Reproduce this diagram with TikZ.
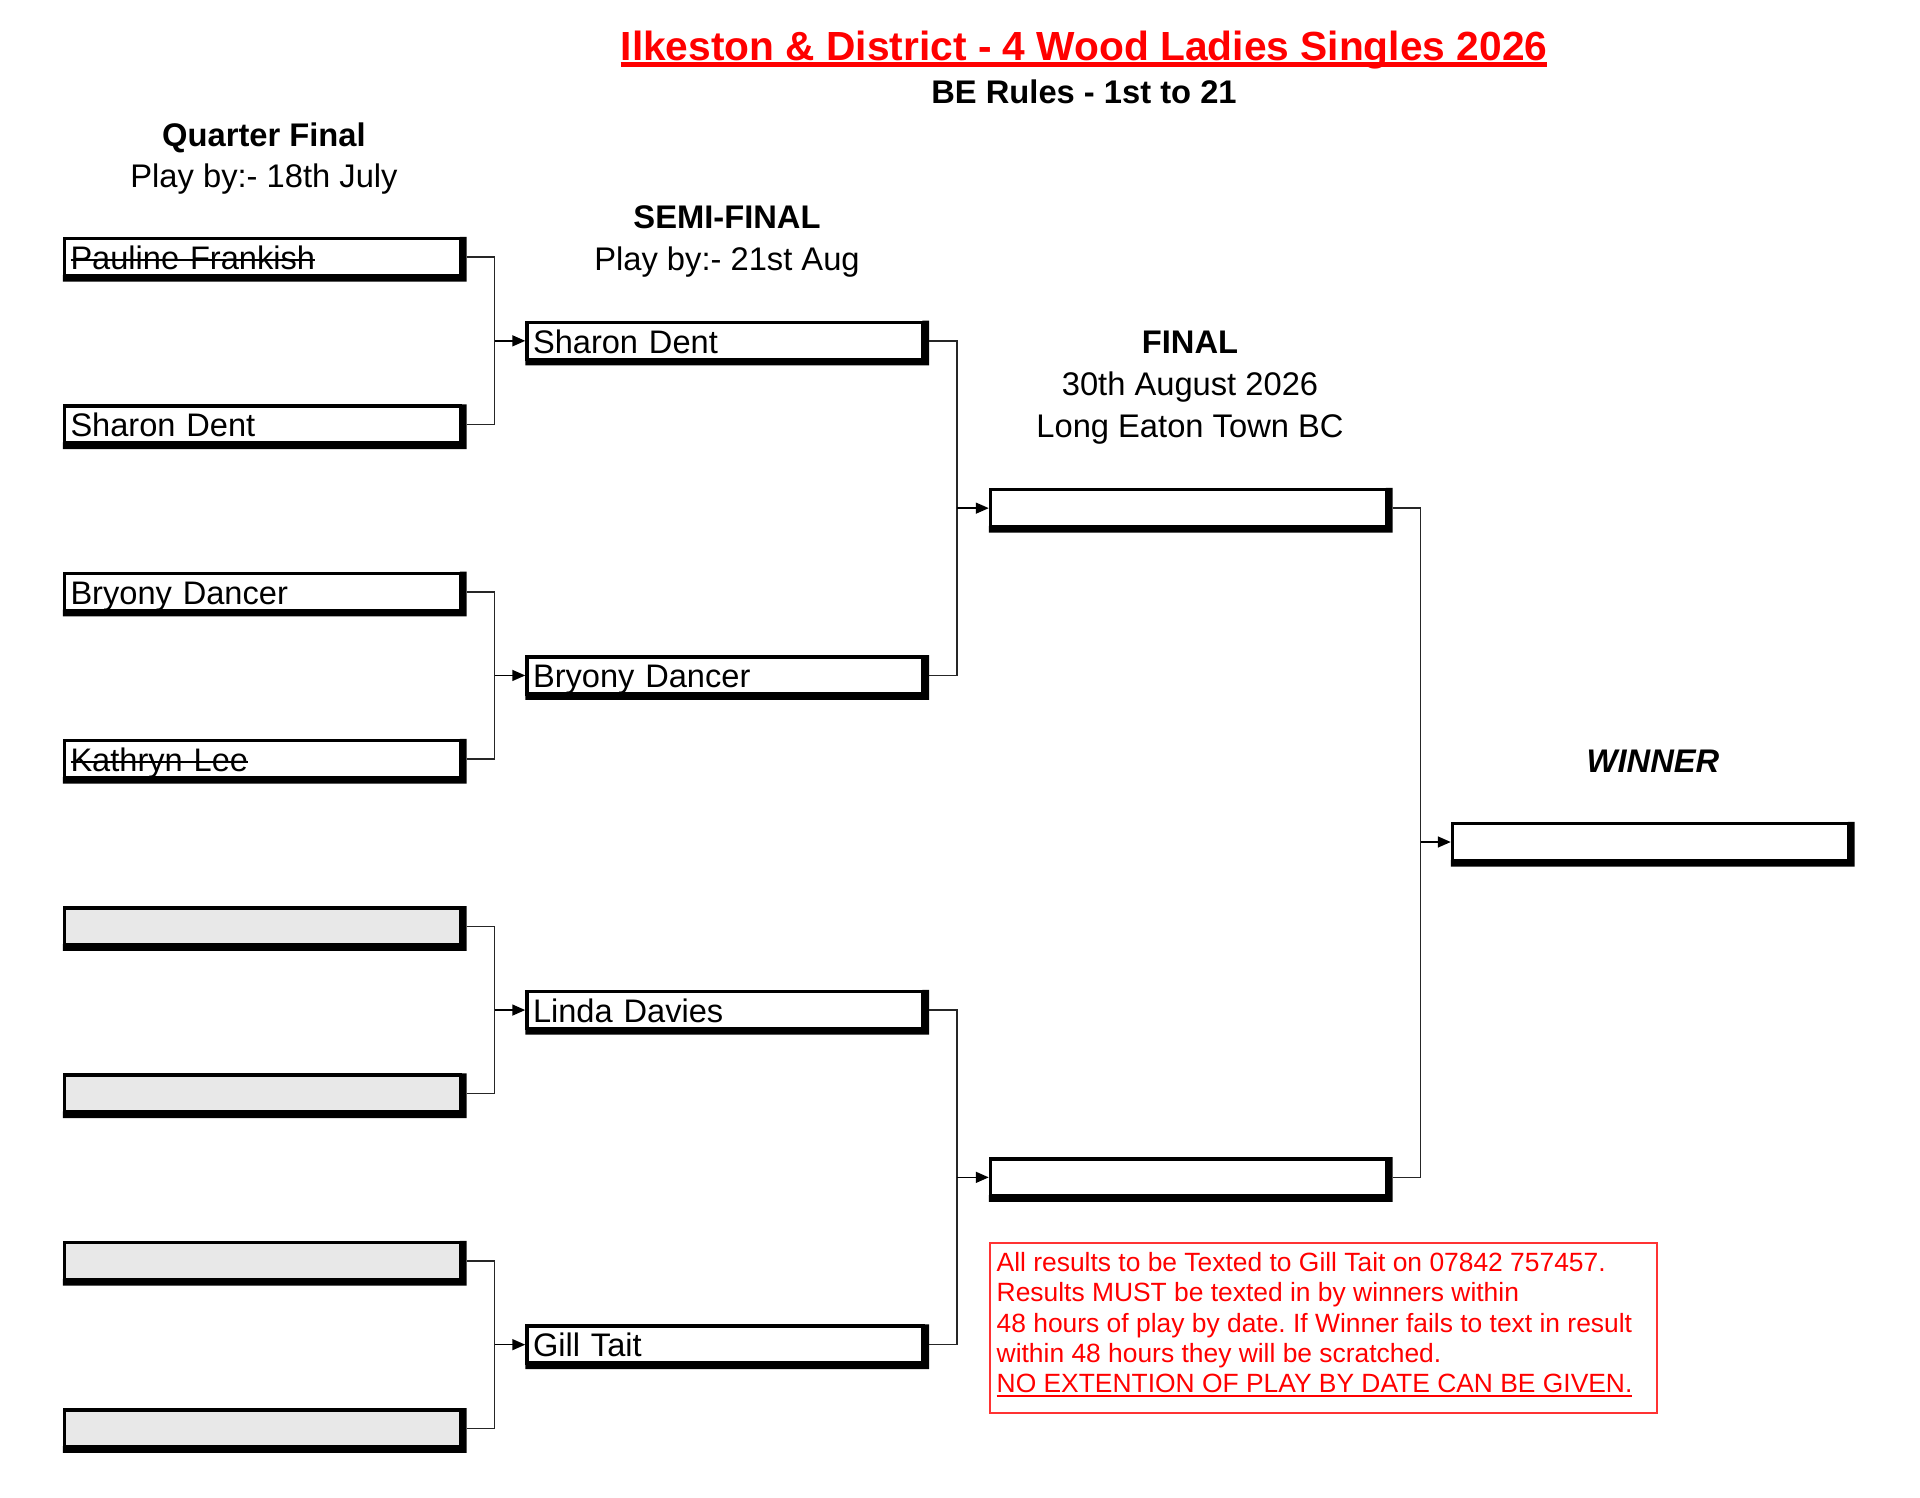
\documentclass[tikz,border=0pt]{standalone}
\usepackage{fontspec}
\setmainfont{Liberation Sans}
\frenchspacing
\usetikzlibrary{arrows.meta}
\tikzset{
 player/.style={draw=black, line width=3.5pt, fill=white, minimum width=396pt, minimum height=37pt,
   inner xsep=6pt, inner ysep=0pt, text width=384pt, align=left, text height=30.7pt, text depth=6.3pt,
   font=\fontsize{32.6}{38}\selectfont},
 empty/.style={player, fill=black!9},
 band/.style={fill=black},
 link/.style={draw=black!85, line width=1.4pt},
 adv/.style={draw=black, line width=1.6pt, -{Triangle[length=13pt,width=11pt]}},
 heading/.style={font=\fontsize{32.7}{38}\selectfont\bfseries, inner sep=0pt, anchor=base},
 sub/.style={font=\fontsize{32.7}{38}\selectfont, inner sep=0pt, anchor=base},
}
\newsavebox{\mybx}
\newcommand{\struck}[1]{\sbox{\mybx}{#1}\rlap{\rule[8.5pt]{\wd\mybx}{2pt}}\usebox{\mybx}}
\newcommand{\ulined}[1]{\sbox{\mybx}{#1}\rlap{\rule[-4.5pt]{\wd\mybx}{2pt}}\usebox{\mybx}}
\begin{document}
\begin{tikzpicture}[x=1pt,y=-1pt]
\useasboundingbox (0,0) rectangle (1920,1498);
% title
\node[font=\fontsize{40.7}{46}\selectfont\bfseries, text=red, inner sep=0pt, anchor=base] (title) at (1084,60.5) {Ilkeston \& District - 4 Wood Ladies Singles 2026};
\draw[red, line width=5pt] ([yshift=-4pt]title.base west) -- ([yshift=-4pt]title.base east);
\node[heading] (rules) at (1084,104) {BE Rules - 1st to 21};
% headings
\node[heading] (qfh) at (264,147) {Quarter Final};
\node[sub] (qfd) at (264,188) {Play by:- 18th July};
\node[heading] (sfh) at (727,229) {SEMI-FINAL};
\node[sub] (sfd) at (727,270) {Play by:- 21st Aug};
\node[heading] (fh) at (1190,353.5) {FINAL};
\node[sub] (fd) at (1190,395.5) {30th August 2026};
\node[sub] (fv) at (1190,437.5) {Long Eaton Town BC};
\node[heading, font=\fontsize{32.7}{38}\selectfont\bfseries\itshape] (wh) at (1653,772) {WINNER};
% quarter finals
\node[player] (q1) at (262.5,257.2) {\struck{Pauline Frankish}};
\node[player] (q2) at (262.5,424.5) {Sharon Dent};
\node[player] (q3) at (262.5,591.8) {Bryony Dancer};
\node[player] (q4) at (262.5,759.1) {\struck{Kathryn Lee}};
\node[empty] (q5) at (262.5,926.4) {};
\node[empty] (q6) at (262.5,1093.7) {};
\node[empty] (q7) at (262.5,1261.0) {};
\node[empty] (q8) at (262.5,1428.3) {};
% semi finals
\node[player] (s1) at (725,340.85) {Sharon Dent};
\node[player] (s2) at (725,675.45) {Bryony Dancer};
\node[player] (s3) at (725,1010.05) {Linda Davies};
\node[player] (s4) at (725,1344.65) {Gill Tait};
% finals
\node[player] (f1) at (1188.5,508.15) {};
\node[player] (f2) at (1188.5,1177.35) {};
% winner
\node[player] (w) at (1650.5,842) {};
% heavy right and bottom edges
\foreach \n in {q1,q2,q3,q4,q5,q6,q7,q8,s1,s2,s3,s4,f1,f2,w}{
  \fill[band] ([yshift=2.5pt]\n.south west) rectangle ([shift={(4.25pt,-4.25pt)}]\n.south east)
              ([xshift=-2.5pt]\n.north east) rectangle ([shift={(4.25pt,-4.25pt)}]\n.south east);
}
% connectors
\foreach \a/\b/\c in {q1/q2/s1, q3/q4/s2, q5/q6/s3, q7/q8/s4, s1/s2/f1, s3/s4/f2, f1/f2/w}{
  \draw[link] ([xshift=4.25pt]\a.east) -- ++(28,0) coordinate (j) |- ([xshift=4.25pt]\b.east);
  \draw[adv] (j |- \c.west) -- (\c.west);
}
% note
\node[draw=red!80, line width=2pt, minimum width=667pt, minimum height=170pt, inner sep=0pt, anchor=north west] (note) at (989,1242) {};
\node[text=red, font=\fontsize{26.4}{30.2}\selectfont, align=left, inner sep=0pt, anchor=base west] (notetext) at (996.5,1392.5) {All results to be Texted to Gill Tait on 07842 757457.\\Results MUST be texted in by winners within\\48 hours of play by date. If Winner fails to text in result\\within 48 hours they will be scratched.\\\ulined{NO EXTENTION OF PLAY BY DATE CAN BE GIVEN.}};
\end{tikzpicture}
\end{document}
